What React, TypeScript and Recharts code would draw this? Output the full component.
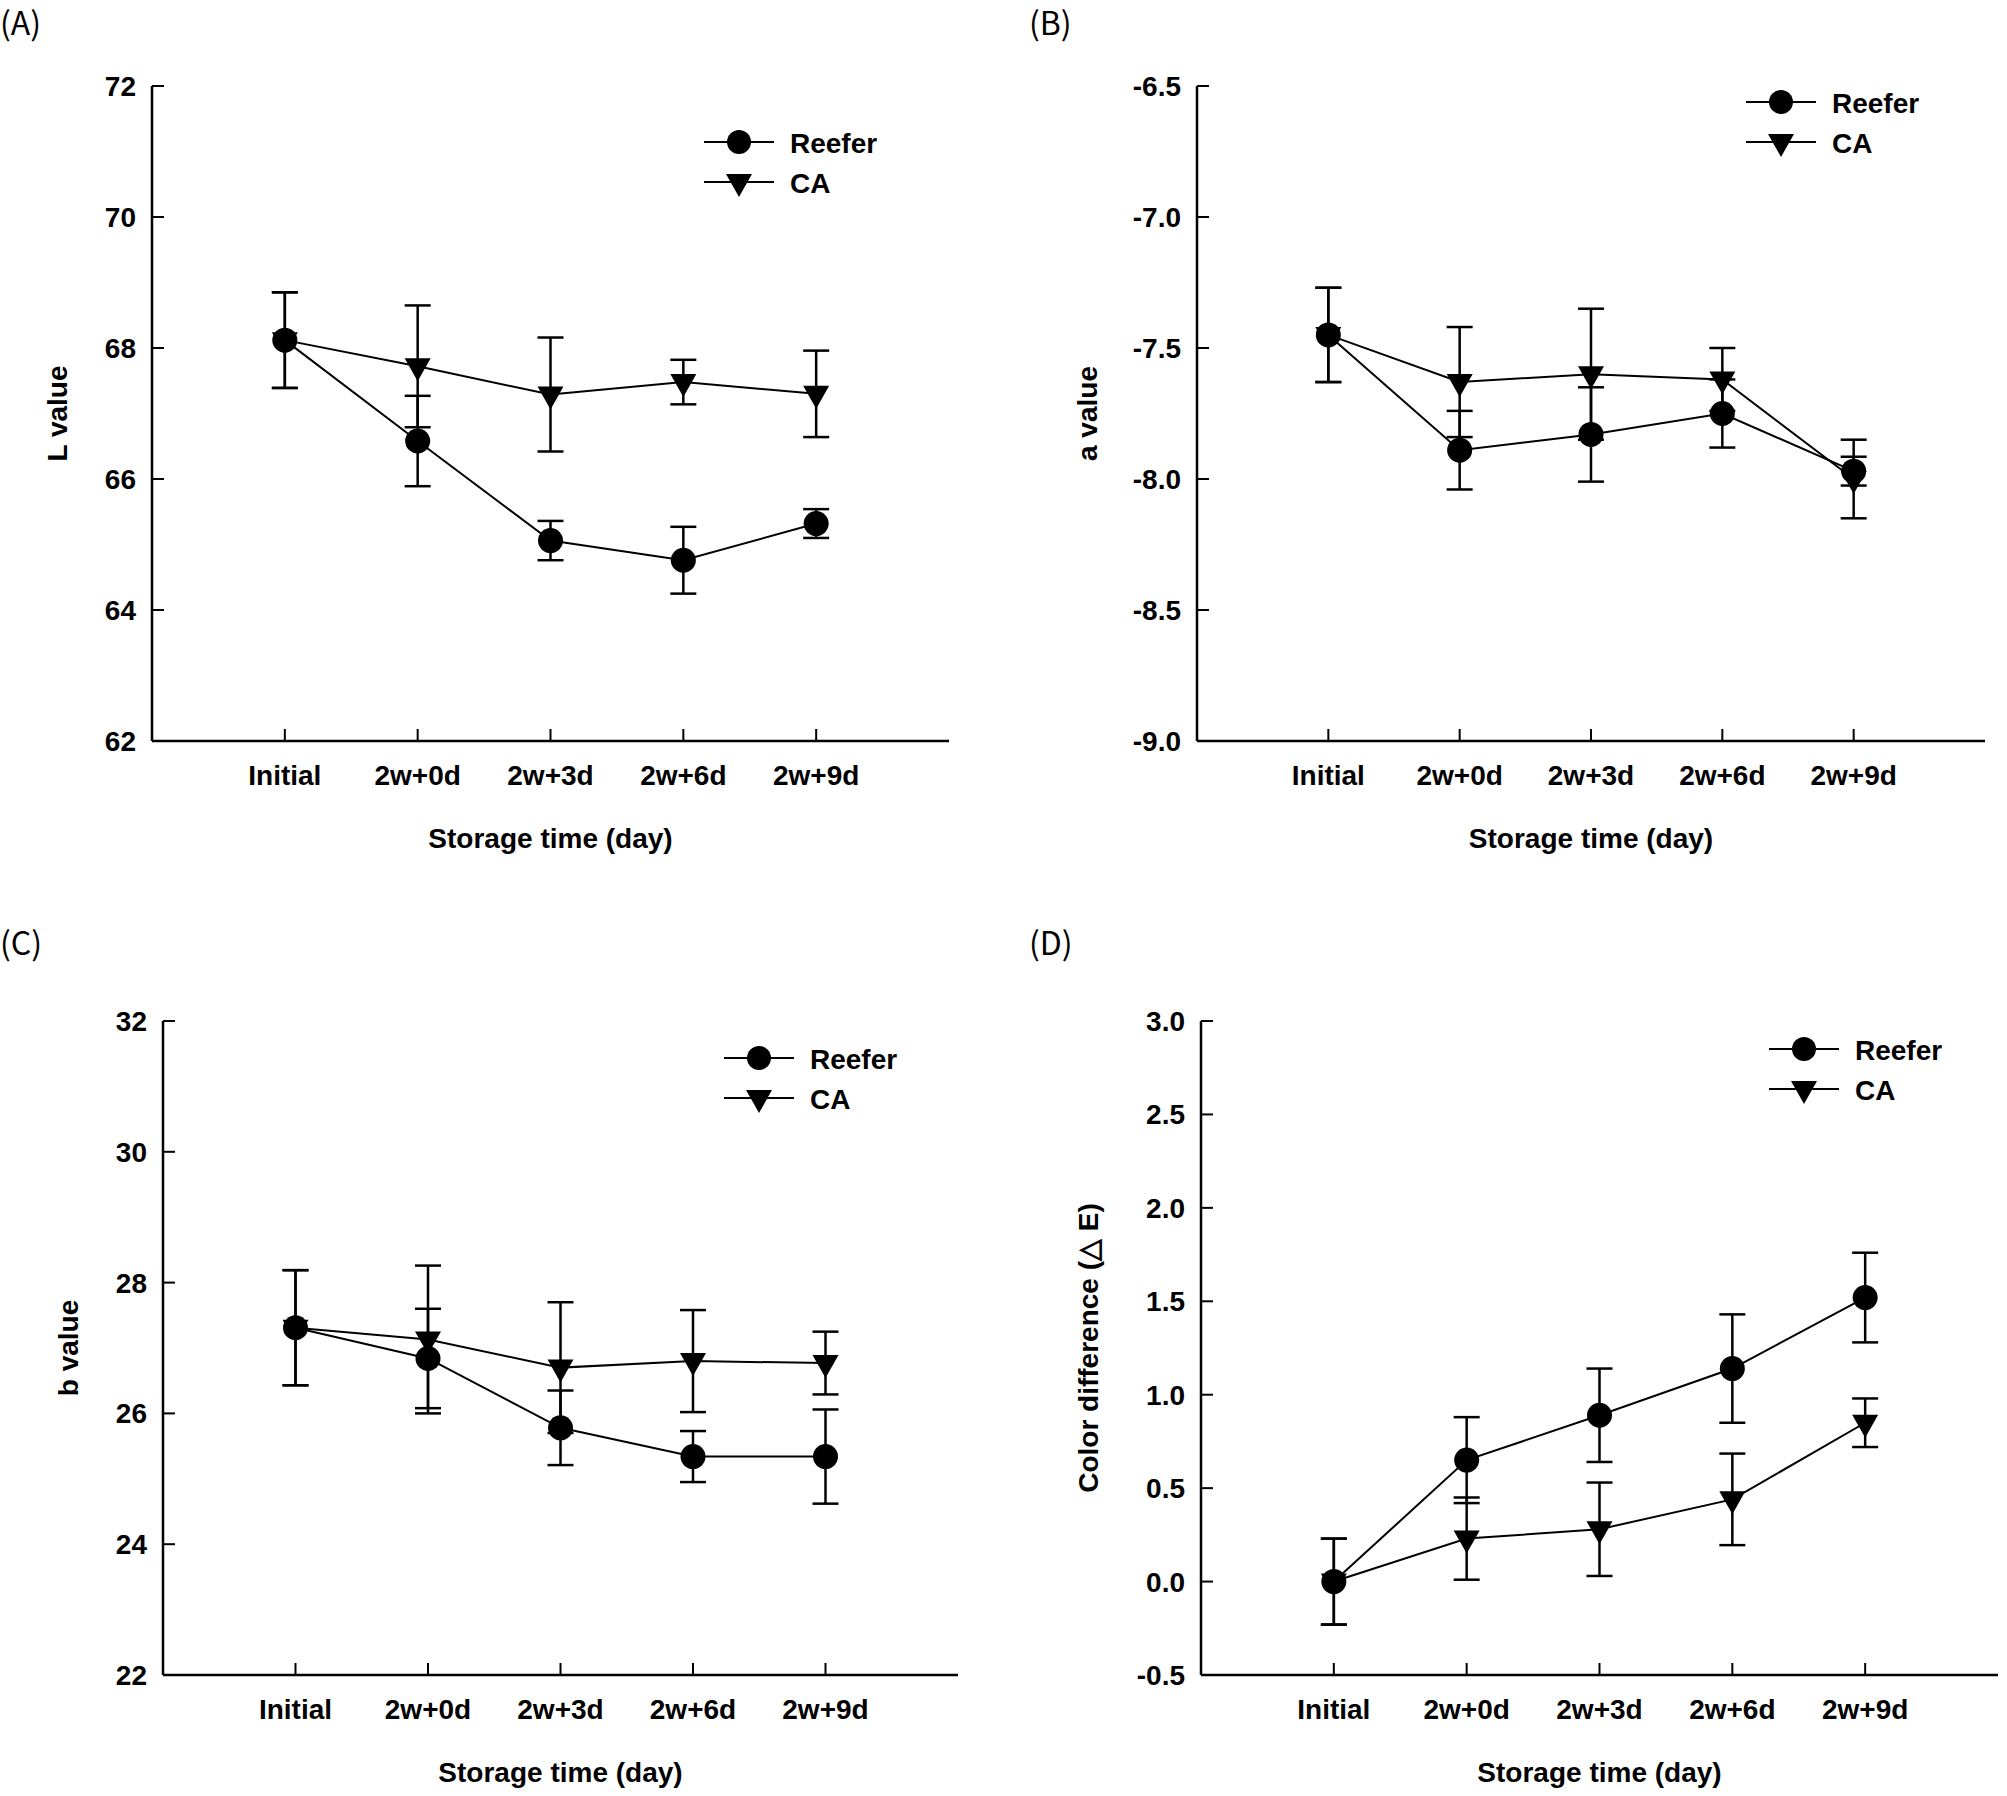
import React from 'react';
import { LineChart, Line, XAxis, YAxis, ErrorBar, Legend, Label } from 'recharts';

const categories = ['Initial', '2w+0d', '2w+3d', '2w+6d', '2w+9d'];
const xPositions = [1, 2, 3, 4, 5];

// (A) L value
const lReefer = [68.12, 66.58, 65.06, 64.76, 65.32];
const lReeferSd = [0.73, 0.69, 0.3, 0.51, 0.22];
const lCa = [68.12, 67.72, 67.29, 67.48, 67.3];
const lCaSd = [0.73, 0.93, 0.87, 0.34, 0.66];
const lTicks = [62, 64, 66, 68, 70, 72];

// (B) a value
const aReefer = [-7.45, -7.89, -7.83, -7.75, -7.97];
const aReeferSd = [0.18, 0.15, 0.18, 0.13, 0.055];
const aCa = [-7.45, -7.63, -7.6, -7.62, -8.0];
const aCaSd = [0.18, 0.21, 0.25, 0.12, 0.15];
const aTicks = [-9.0, -8.5, -8.0, -7.5, -7.0, -6.5];

// (C) b value
const bReefer = [27.31, 26.84, 25.78, 25.34, 25.34];
const bReeferSd = [0.88, 0.76, 0.57, 0.39, 0.72];
const bCa = [27.31, 27.13, 26.7, 26.8, 26.77];
const bCaSd = [0.88, 1.13, 1.0, 0.78, 0.48];
const bTicks = [22, 24, 26, 28, 30, 32];

// (D) color difference
const eReefer = [0.0, 0.65, 0.89, 1.14, 1.52];
const eReeferSd = [0.23, 0.23, 0.25, 0.29, 0.24];
const eCa = [0.0, 0.23, 0.28, 0.44, 0.85];
const eCaSd = [0.23, 0.22, 0.25, 0.245, 0.13];
const eTicks = [-0.5, 0.0, 0.5, 1.0, 1.5, 2.0, 2.5, 3.0];

const FONT = '"Liberation Sans", Arial, sans-serif';
const TAG_FONT = '"Noto Sans CJK KR", "Noto Sans", sans-serif';

function CircleDot(props: any) {
  const { cx, cy } = props;
  if (cx == null || cy == null) return null;
  return <circle cx={cx} cy={cy} r={12.5} fill="#000" />;
}

function TriangleDot(props: any) {
  const { cx, cy } = props;
  if (cx == null || cy == null) return null;
  return <path d={`M${cx - 13},${cy - 8}L${cx + 13},${cy - 8}L${cx},${cy + 15}Z`} fill="#000" />;
}

function LegendBox() {
  return (
    <svg width={220} height={90} style={{ display: 'block' }}>
      <line x1={0} y1={20} x2={70} y2={20} stroke="#000" strokeWidth={2} />
      <circle cx={35} cy={20} r={12} fill="#000" />
      <text x={86} y={31} fontFamily={FONT} fontWeight="bold" fontSize={28} fill="#000">Reefer</text>
      <line x1={0} y1={60} x2={70} y2={60} stroke="#000" strokeWidth={2} />
      <path d="M22,52L48,52L35,75Z" fill="#000" />
      <text x={86} y={71} fontFamily={FONT} fontWeight="bold" fontSize={28} fill="#000">CA</text>
    </svg>
  );
}

type PanelProps = {
  tag: string;
  left: number;
  top: number;
  width: number;
  height: number;
  plotLeft: number;
  plotTop: number;
  plotRight: number;
  plotBottom: number;
  yLabel: string;
  yLabelX: number;
  yTicks: number[];
  decimals: number;
  reefer: number[];
  reeferSd: number[];
  ca: number[];
  caSd: number[];
  legendX: number;
  legendY: number;
};

function Panel(p: PanelProps) {
  const data = categories.map((c, i) => ({
    x: xPositions[i],
    name: c,
    reefer: p.reefer[i],
    reeferSd: p.reeferSd[i],
    ca: p.ca[i],
    caSd: p.caSd[i],
  }));
  const pl = p.plotLeft - p.left;
  const pt = p.plotTop - p.top;
  const pr = p.plotRight - p.left;
  const pb = p.plotBottom - p.top;

  const renderXTick = (t: any) => (
    <g>
      <line x1={t.x} y1={pb} x2={t.x} y2={pb - 12} stroke="#000" strokeWidth={2} />
      <text x={t.x} y={pb + 44} textAnchor="middle" fontFamily={FONT} fontWeight="bold" fontSize={28} fill="#000">
        {categories[t.payload.value - 1]}
      </text>
    </g>
  );

  const renderYTick = (t: any) => (
    <g>
      <line x1={pl} y1={t.y} x2={pl + 12} y2={t.y} stroke="#000" strokeWidth={2} />
      <text x={pl - 16} y={t.y + 10} textAnchor="end" fontFamily={FONT} fontWeight="bold" fontSize={28} fill="#000">
        {Number(t.payload.value).toFixed(p.decimals)}
      </text>
    </g>
  );

  const yMin = p.yTicks[0];
  const yMax = p.yTicks[p.yTicks.length - 1];

  return (
    <div style={{ position: 'absolute', left: p.left, top: p.top, width: p.width, height: p.height }}>
      <div
        style={{
          position: 'absolute',
          left: p.tag === '(A)' || p.tag === '(C)' ? 0 : 29,
          top: 1,
          fontFamily: TAG_FONT,
          fontSize: 32,
          lineHeight: '40px',
          color: '#000',
          zIndex: 2,
        }}
      >
        {p.tag}
      </div>
      <LineChart
        width={p.width}
        height={p.height}
        data={data}
        margin={{ top: pt, right: p.width - pr, bottom: 0, left: 0 }}
      >
        <XAxis
          type="number"
          dataKey="x"
          domain={[0, 6]}
          ticks={xPositions}
          interval={0}
          height={p.height - pb}
          axisLine={{ stroke: '#000', strokeWidth: 2.5 }}
          tickLine={false}
          tick={renderXTick}
        >
          <Label
            content={() => (
              <text
                x={(pl + pr) / 2}
                y={pb + 107}
                textAnchor="middle"
                fontFamily={FONT}
                fontWeight="bold"
                fontSize={28}
                fill="#000"
              >
                Storage time (day)
              </text>
            )}
          />
        </XAxis>
        <YAxis
          type="number"
          domain={[yMin, yMax]}
          ticks={p.yTicks}
          interval={0}
          width={pl}
          axisLine={{ stroke: '#000', strokeWidth: 2.5 }}
          tickLine={false}
          tick={renderYTick}
        >
          <Label
            content={() => {
              const cx = p.yLabelX - p.left;
              const cy = (pt + pb) / 2;
              return (
                <text
                  x={cx}
                  y={cy}
                  transform={`rotate(-90 ${cx} ${cy})`}
                  textAnchor="middle"
                  dominantBaseline="central"
                  fontFamily={FONT}
                  fontWeight="bold"
                  fontSize={28}
                  fill="#000"
                >
                  {p.yLabel}
                </text>
              );
            }}
          />
        </YAxis>
        <Legend
          layout="vertical"
          align="center"
          verticalAlign="middle"
          content={() => <LegendBox />}
          wrapperStyle={{ position: 'absolute', left: p.legendX - p.left, top: p.legendY - p.top - 20, width: 220, height: 90 }}
        />
        <Line
          dataKey="reefer"
          stroke="#000"
          strokeWidth={2}
          dot={CircleDot}
          activeDot={false}
          isAnimationActive={false}
        >
          <ErrorBar dataKey="reeferSd" width={13} stroke="#000" strokeWidth={2.5} direction="y" isAnimationActive={false} />
        </Line>
        <Line
          dataKey="ca"
          stroke="#000"
          strokeWidth={2}
          dot={TriangleDot}
          activeDot={false}
          isAnimationActive={false}
        >
          <ErrorBar dataKey="caSd" width={13} stroke="#000" strokeWidth={2.5} direction="y" isAnimationActive={false} />
        </Line>
      </LineChart>
    </div>
  );
}

export default function App() {
  return (
    <div style={{ position: 'absolute', left: 0, top: 0, width: 2007, height: 1796, background: '#fff' }}>
      <Panel
        tag="(A)"
        left={0}
        top={0}
        width={1000}
        height={900}
        plotLeft={152}
        plotTop={86}
        plotRight={949}
        plotBottom={741}
        yLabel="L value"
        yLabelX={57}
        yTicks={lTicks}
        decimals={0}
        reefer={lReefer}
        reeferSd={lReeferSd}
        ca={lCa}
        caSd={lCaSd}
        legendX={704}
        legendY={142}
      />
      <Panel
        tag="(B)"
        left={1000}
        top={0}
        width={1007}
        height={900}
        plotLeft={1197}
        plotTop={86}
        plotRight={1985}
        plotBottom={741}
        yLabel="a value"
        yLabelX={1087}
        yTicks={aTicks}
        decimals={1}
        reefer={aReefer}
        reeferSd={aReeferSd}
        ca={aCa}
        caSd={aCaSd}
        legendX={1746}
        legendY={102}
      />
      <Panel
        tag="(C)"
        left={0}
        top={920}
        width={1000}
        height={876}
        plotLeft={163}
        plotTop={1021}
        plotRight={958}
        plotBottom={1675}
        yLabel="b value"
        yLabelX={68}
        yTicks={bTicks}
        decimals={0}
        reefer={bReefer}
        reeferSd={bReeferSd}
        ca={bCa}
        caSd={bCaSd}
        legendX={724}
        legendY={1058}
      />
      <Panel
        tag="(D)"
        left={1000}
        top={920}
        width={1007}
        height={876}
        plotLeft={1201}
        plotTop={1021}
        plotRight={1998}
        plotBottom={1675}
        yLabel="Color difference (△ E)"
        yLabelX={1088}
        yTicks={eTicks}
        decimals={1}
        reefer={eReefer}
        reeferSd={eReeferSd}
        ca={eCa}
        caSd={eCaSd}
        legendX={1769}
        legendY={1049}
      />
    </div>
  );
}
